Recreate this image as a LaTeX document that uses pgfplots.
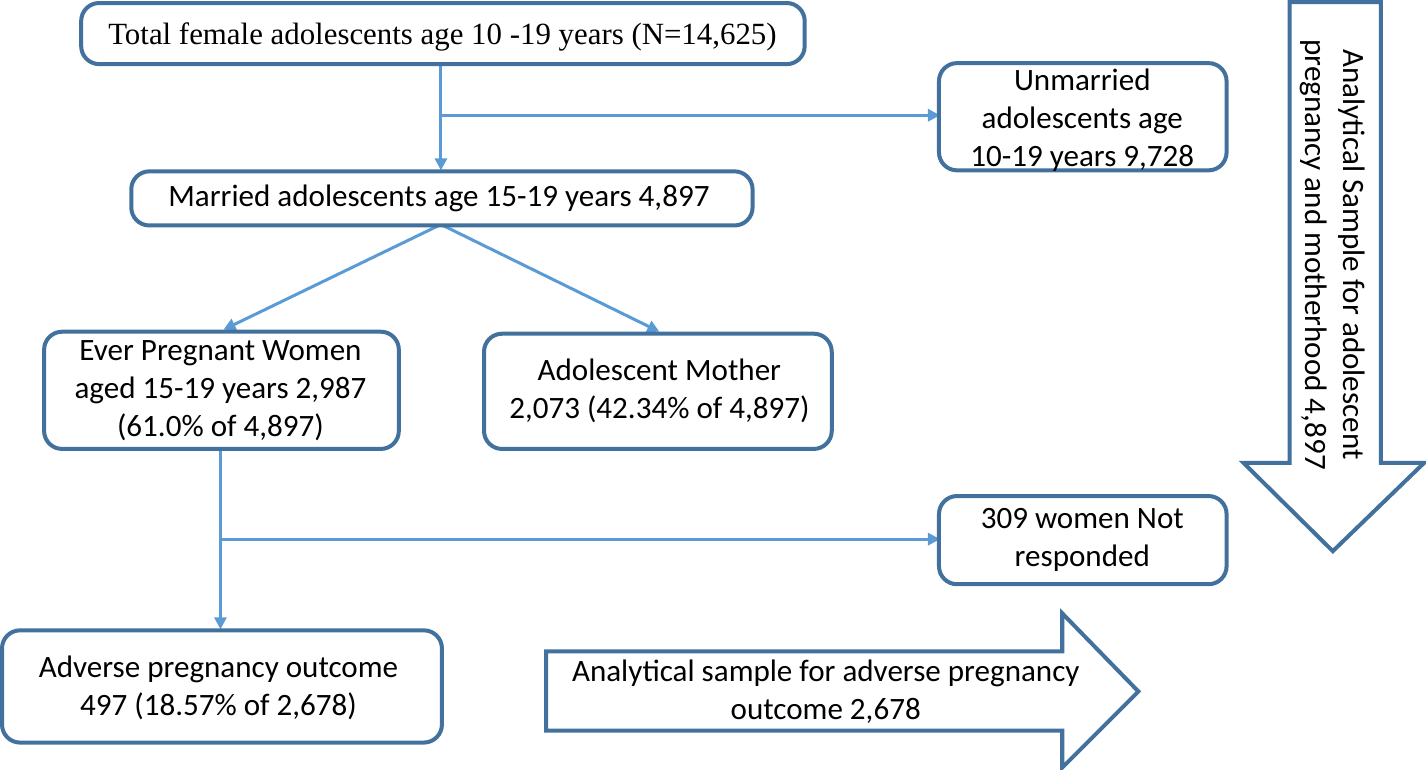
\documentclass[border=0pt]{standalone}
\usepackage{pgfplots}
\pgfplotsset{compat=1.18}
\usepackage{fontspec}
\setmainfont{Carlito}
\newfontfamily\timesf{Liberation Serif}
\usetikzlibrary{arrows.meta}
\definecolor{boxc}{HTML}{41719C}
\definecolor{linec}{HTML}{5B9BD5}
\begin{document}
\begin{tikzpicture}
\begin{axis}[scale only axis, width=713bp, height=385.5bp,
  xmin=0, xmax=1426, ymin=0, ymax=771, y dir=reverse,
  hide axis, clip=false]
% connectors
\addplot[linec, line width=1.5bp, -{Triangle[length=6bp,width=6bp]}] coordinates {(442,64) (442,170)};
\addplot[linec, line width=1.5bp, -{Triangle[length=6bp,width=6bp]}] coordinates {(442,115) (940,115)};
\addplot[linec, line width=1.5bp, -{Triangle[length=6bp,width=6bp]}] coordinates {(442,224) (225,329)};
\addplot[linec, line width=1.5bp, -{Triangle[length=6bp,width=6bp]}] coordinates {(442,224) (660,331)};
\addplot[linec, line width=1.5bp, -{Triangle[length=6bp,width=6bp]}] coordinates {(222,448) (222,628)};
\addplot[linec, line width=1.5bp, -{Triangle[length=6bp,width=6bp]}] coordinates {(222,538) (940,538)};
% boxes
\draw[boxc, line width=2bp, rounded corners=9bp, fill=white] (axis cs:83,3) rectangle (axis cs:805,64);
\draw[boxc, line width=2bp, rounded corners=9bp, fill=white] (axis cs:939,63) rectangle (axis cs:1226,170);
\draw[boxc, line width=2bp, rounded corners=9bp, fill=white] (axis cs:133,171) rectangle (axis cs:753,225);
\draw[boxc, line width=2bp, rounded corners=9bp, fill=white] (axis cs:46,331) rectangle (axis cs:400,448);
\draw[boxc, line width=2bp, rounded corners=9bp, fill=white] (axis cs:485,333) rectangle (axis cs:832,448);
\draw[boxc, line width=2bp, rounded corners=9bp, fill=white] (axis cs:939,495) rectangle (axis cs:1226,583);
\draw[boxc, line width=2bp, rounded corners=9bp, fill=white] (axis cs:4,629) rectangle (axis cs:443,741);
% big arrows
\draw[boxc, line width=2bp, fill=white] (axis cs:1289,2) -- (axis cs:1380,2) -- (axis cs:1380,462) -- (axis cs:1423,462) -- (axis cs:1332,550) -- (axis cs:1243,462) -- (axis cs:1289,462) -- cycle;
\draw[boxc, line width=2bp, fill=white] (axis cs:547,650) -- (axis cs:1062,650) -- (axis cs:1062,612) -- (axis cs:1138,690) -- (axis cs:1062,766) -- (axis cs:1062,729) -- (axis cs:547,729) -- cycle;
% texts
\node[font=\timesf\fontsize{15.4bp}{18bp}\selectfont, anchor=west] at (axis cs:103,37) {Total female adolescents age 10 -19 years (N=14,625)};
\node[font=\fontsize{15.5bp}{19bp}\selectfont, align=center] at (axis cs:1082,120) {Unmarried\\adolescents age\\10-19 years 9,728};
\node[font=\fontsize{15.5bp}{19bp}\selectfont] at (axis cs:440,198) {Married adolescents age 15-19 years 4,897};
\node[font=\fontsize{15.5bp}{19bp}\selectfont, align=center] at (axis cs:222,390) {Ever Pregnant Women\\aged 15-19 years 2,987\\(61.0\% of 4,897)};
\node[font=\fontsize{15.5bp}{19bp}\selectfont, align=center] at (axis cs:660,390) {Adolescent Mother\\2,073 (42.34\% of 4,897)};
\node[font=\fontsize{15.5bp}{19bp}\selectfont, align=center] at (axis cs:1082,539) {309 women Not\\responded};
\node[font=\fontsize{15.5bp}{19bp}\selectfont, align=center] at (axis cs:220,686) {Adverse pregnancy outcome\\497 (18.57\% of 2,678)};
\node[font=\fontsize{15.5bp}{19bp}\selectfont, align=center] at (axis cs:826,690) {Analytical sample for adverse pregnancy\\outcome 2,678};
\node[font=\fontsize{15.5bp}{19bp}\selectfont, align=center, rotate=-90] at (axis cs:1332,254) {Analytical Sample for adolescent\\pregnancy and motherhood 4,897};
\end{axis}
\end{tikzpicture}
\end{document}
